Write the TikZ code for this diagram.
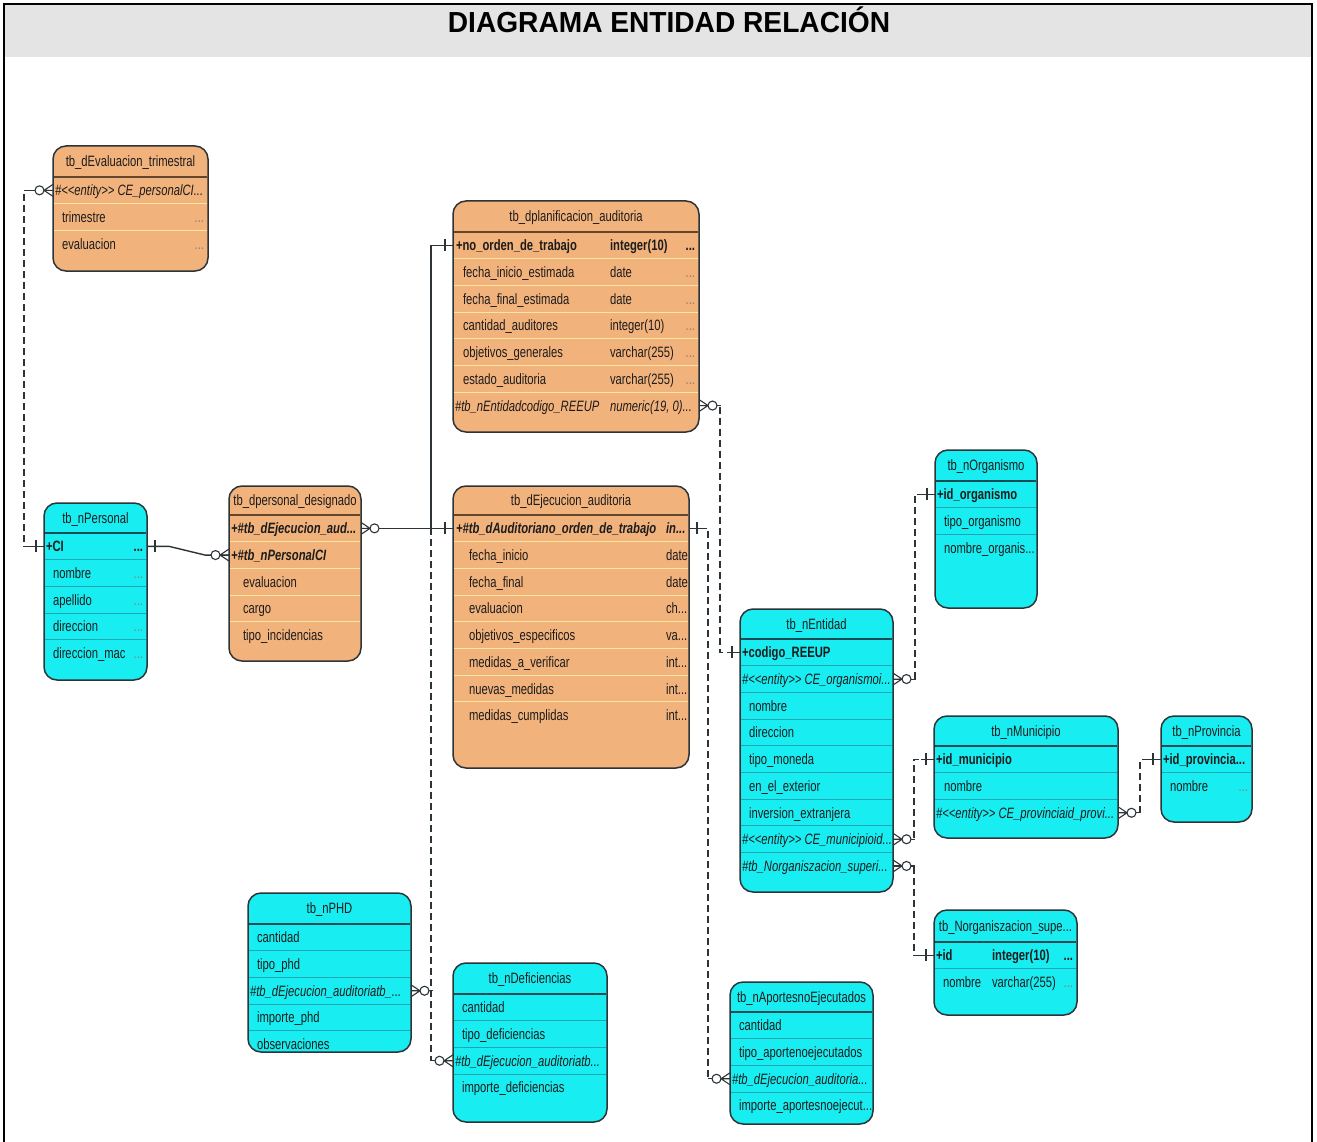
\documentclass[tikz,border=0pt]{standalone}
\usepackage{fontspec}
\newfontfamily\erfont{Liberation Sans}[FakeStretch=0.75]
\newfontfamily\headfont{Liberation Sans}[FakeStretch=0.97]
\usetikzlibrary{calc}

\definecolor{erorange}{RGB}{242,178,124}
\definecolor{erorangerule}{RGB}{250,232,160}
\definecolor{erorangehead}{RGB}{100,70,45}
\definecolor{ercyan}{RGB}{24,238,242}
\definecolor{ercyanrule}{RGB}{30,165,180}
\definecolor{ercyanhead}{RGB}{25,75,85}
\definecolor{erframe}{RGB}{45,52,55}
\definecolor{erink}{RGB}{28,28,28}
\definecolor{erdots}{RGB}{130,130,120}
\definecolor{titleband}{RGB}{228,228,228}

\newcommand\rowh{26.7}

% \ertable{name}{left}{top}{right}{bottom}{header rule y}{colour}{title}
\newcommand\ertable[8]{%
  \expandafter\xdef\csname erl@#1\endcsname{#2}%
  \expandafter\xdef\csname err@#1\endcsname{#4}%
  \expandafter\xdef\csname erh@#1\endcsname{#6}%
  \expandafter\xdef\csname erc@#1\endcsname{#7}%
  \node[tablebox, fill=#7, minimum width={#4-#2}, minimum height={#5-#3}] (#1) at ({(#2+#4)/2},{(#3+#5)/2}) {};
  \draw[headrule, draw=#7head] ({#2+0.8},#6) -- ({#4-0.8},#6);
  \node[ertitle, anchor=base] (#1-title) at ({(#2+#4)/2},{(#3+#6)/2+5}) {#8};
}

% \errow{table}{index}{style}{x of name}{name}{x of type}{type}{style of trailing dots}
\newcommand\errow[8]{%
  \edef\tabL{\csname erl@#1\endcsname}%
  \edef\tabR{\csname err@#1\endcsname}%
  \edef\tabH{\csname erh@#1\endcsname}%
  \edef\tabC{\csname erc@#1\endcsname rule}%
  \pgfmathsetmacro\rowY{\tabH+(#2-0.5)*\rowh}%
  \pgfmathsetmacro\rowB{\rowY+5.5}%
  \node[rowslot, minimum width={\tabR-\tabL}] (#1-#2) at ({(\tabL+\tabR)/2},\rowY) {};
  \ifnum#2>1
    \pgfmathsetmacro\rowT{\tabH+(#2-1)*\rowh}%
    \draw[rowrule, draw=\tabC] ({\tabL+0.8},\rowT) -- ({\tabR-0.8},\rowT);
  \fi
  \node[#3, anchor=base west] (#1-#2-name) at (#4,\rowB) {#5};
  \if\relax\detokenize{#7}\relax\else
    \node[#3, anchor=base west] (#1-#2-type) at (#6,\rowB) {#7};
  \fi
  \if\relax\detokenize{#8}\relax\else
    \node[#8, anchor=base east] (#1-#2-more) at ({\tabR-4},\rowB) {...};
  \fi
}

\tikzset{
  tablebox/.style={draw=erframe, line width=1.5pt, rounded corners=13pt, inner sep=0pt, outer sep=0pt},
  headrule/.style={line width=1.4pt},
  rowrule/.style={line width=0.9pt},
  rowslot/.style={inner sep=0pt, outer sep=0pt, minimum height=26.7pt},
  ercell/.style={inner sep=0pt, outer sep=0pt, text=erink, font=\erfont\fontsize{15}{17}\selectfont},
  erkey/.style={ercell, font=\erfont\bfseries\fontsize{15}{17}\selectfont},
  erfk/.style={ercell, font=\erfont\itshape\fontsize{15}{17}\selectfont},
  erkeyfk/.style={ercell, font=\erfont\bfseries\itshape\fontsize{15}{17}\selectfont},
  erdot/.style={ercell, text=erdots},
  erkeydot/.style={erkey},
  ertitle/.style={ercell},
  conn/.style={draw=erframe, line width=1.1pt},
  relline/.style={conn, dash pattern=on 7pt off 4pt},
  endmark/.style={draw=erframe, line width=1.1pt, solid},
  crowend/.pic={
    \draw[endmark] (0,-6) -- (9,0) -- (0,6) (0,0) -- (9,0);
    \draw[endmark, fill=white] (13.5,0) circle[radius=4.5];
    \draw[endmark] (18,0) -- (22,0);
  },
  barend/.pic={
    \draw[endmark] (0,0) -- (13,0) (8,-6) -- (8,6);
  },
}

\begin{document}
\begin{tikzpicture}[x=1pt, y=-1pt]
\useasboundingbox (0,0) rectangle (1317,1142);
\fill[white] (0,0) rectangle (1317,1142);

% heading band and frame
\fill[titleband] (4,4) rectangle (1312,57);
\draw[black, line width=2.5pt] (4,1142) -- (4,4) -- (1312,4) -- (1312,1142);
\node[font=\headfont\bfseries\fontsize{29}{31}\selectfont, anchor=base, inner sep=0pt] (heading) at (669,33) {DIAGRAMA ENTIDAD RELACIÓN};

% ---------------- tables ----------------
\ertable{eval}{53}{146}{208}{271}{177}{erorange}{tb\_dEvaluacion\_trimestral}
\errow{eval}{1}{erfk}{55}{\#<<entity>> CE\_personalCI...}{}{}{}
\errow{eval}{2}{ercell}{62}{trimestre}{}{}{erdot}
\errow{eval}{3}{ercell}{62}{evaluacion}{}{}{erdot}

\ertable{plan}{453}{201}{699}{432}{232}{erorange}{tb\_dplanificacion\_auditoria}
\errow{plan}{1}{erkey}{456}{+no\_orden\_de\_trabajo}{610}{integer(10)}{erkeydot}
\errow{plan}{2}{ercell}{463}{fecha\_inicio\_estimada}{610}{date}{erdot}
\errow{plan}{3}{ercell}{463}{fecha\_final\_estimada}{610}{date}{erdot}
\errow{plan}{4}{ercell}{463}{cantidad\_auditores}{610}{integer(10)}{erdot}
\errow{plan}{5}{ercell}{463}{objetivos\_generales}{610}{varchar(255)}{erdot}
\errow{plan}{6}{ercell}{463}{estado\_auditoria}{610}{varchar(255)}{erdot}
\errow{plan}{7}{erfk}{455}{\#tb\_nEntidadcodigo\_REEUP}{610}{numeric(19, 0)...}{}

\ertable{ejec}{453}{486}{689}{768}{515}{erorange}{tb\_dEjecucion\_auditoria}
\errow{ejec}{1}{erkeyfk}{456}{+\#tb\_dAuditoriano\_orden\_de\_trabajo}{666}{in...}{}
\errow{ejec}{2}{ercell}{469}{fecha\_inicio}{666}{date}{}
\errow{ejec}{3}{ercell}{469}{fecha\_final}{666}{date}{}
\errow{ejec}{4}{ercell}{469}{evaluacion}{666}{ch...}{}
\errow{ejec}{5}{ercell}{469}{objetivos\_especificos}{666}{va...}{}
\errow{ejec}{6}{ercell}{469}{medidas\_a\_verificar}{666}{int...}{}
\errow{ejec}{7}{ercell}{469}{nuevas\_medidas}{666}{int...}{}
\errow{ejec}{8}{ercell}{469}{medidas\_cumplidas}{666}{int...}{}

\ertable{des}{229}{486}{361}{661}{515}{erorange}{tb\_dpersonal\_designado}
\errow{des}{1}{erkeyfk}{231}{+\#tb\_dEjecucion\_aud...}{}{}{}
\errow{des}{2}{erkeyfk}{231}{+\#tb\_nPersonalCI}{}{}{}
\errow{des}{3}{ercell}{243}{evaluacion}{}{}{}
\errow{des}{4}{ercell}{243}{cargo}{}{}{}
\errow{des}{5}{ercell}{243}{tipo\_incidencias}{}{}{}

\ertable{per}{44}{503}{147}{680}{533}{ercyan}{tb\_nPersonal}
\errow{per}{1}{erkey}{46}{+CI}{}{}{erkeydot}
\errow{per}{2}{ercell}{53}{nombre}{}{}{erdot}
\errow{per}{3}{ercell}{53}{apellido}{}{}{erdot}
\errow{per}{4}{ercell}{53}{direccion}{}{}{erdot}
\errow{per}{5}{ercell}{53}{direccion\_mac}{}{}{erdot}

\ertable{org}{935}{450}{1037}{608}{481}{ercyan}{tb\_nOrganismo}
\errow{org}{1}{erkey}{937}{+id\_organismo}{}{}{}
\errow{org}{2}{ercell}{944}{tipo\_organismo}{}{}{}
\errow{org}{3}{ercell}{944}{nombre\_organis...}{}{}{}

\ertable{ent}{740}{609}{893}{892}{639}{ercyan}{tb\_nEntidad}
\errow{ent}{1}{erkey}{742}{+codigo\_REEUP}{}{}{}
\errow{ent}{2}{erfk}{742}{\#<<entity>> CE\_organismoi...}{}{}{}
\errow{ent}{3}{ercell}{749}{nombre}{}{}{}
\errow{ent}{4}{ercell}{749}{direccion}{}{}{}
\errow{ent}{5}{ercell}{749}{tipo\_moneda}{}{}{}
\errow{ent}{6}{ercell}{749}{en\_el\_exterior}{}{}{}
\errow{ent}{7}{ercell}{749}{inversion\_extranjera}{}{}{}
\errow{ent}{8}{erfk}{742}{\#<<entity>> CE\_municipioid...}{}{}{}
\errow{ent}{9}{erfk}{742}{\#tb\_Norganiszacion\_superi...}{}{}{}

\ertable{mun}{934}{716}{1118}{838}{746}{ercyan}{tb\_nMunicipio}
\errow{mun}{1}{erkey}{936}{+id\_municipio}{}{}{}
\errow{mun}{2}{ercell}{944}{nombre}{}{}{}
\errow{mun}{3}{erfk}{936}{\#<<entity>> CE\_provinciaid\_provi...}{}{}{}

\ertable{prov}{1161}{716}{1252}{822}{746}{ercyan}{tb\_nProvincia}
\errow{prov}{1}{erkey}{1163}{+id\_provincia...}{}{}{}
\errow{prov}{2}{ercell}{1170}{nombre}{}{}{erdot}

\ertable{norg}{934}{910}{1077}{1015}{942}{ercyan}{tb\_Norganiszacion\_supe...}
\errow{norg}{1}{erkey}{936}{+id}{992}{integer(10)}{erkeydot}
\errow{norg}{2}{ercell}{943}{nombre}{992}{varchar(255)}{erdot}

\ertable{apor}{730}{982}{873}{1124}{1012}{ercyan}{tb\_nAportesnoEjecutados}
\errow{apor}{1}{ercell}{739}{cantidad}{}{}{}
\errow{apor}{2}{ercell}{739}{tipo\_aportenoejecutados}{}{}{}
\errow{apor}{3}{erfk}{732}{\#tb\_dEjecucion\_auditoria...}{}{}{}
\errow{apor}{4}{ercell}{739}{importe\_aportesnoejecut...}{}{}{}

\ertable{def}{453}{963}{607}{1122}{994}{ercyan}{tb\_nDeficiencias}
\errow{def}{1}{ercell}{462}{cantidad}{}{}{}
\errow{def}{2}{ercell}{462}{tipo\_deficiencias}{}{}{}
\errow{def}{3}{erfk}{455}{\#tb\_dEjecucion\_auditoriatb...}{}{}{}
\errow{def}{4}{ercell}{462}{importe\_deficiencias}{}{}{}

\ertable{phd}{248}{893}{411}{1052}{924}{ercyan}{tb\_nPHD}
\errow{phd}{1}{ercell}{257}{cantidad}{}{}{}
\errow{phd}{2}{ercell}{257}{tipo\_phd}{}{}{}
\errow{phd}{3}{erfk}{250}{\#tb\_dEjecucion\_auditoriatb\_...}{}{}{}
\errow{phd}{4}{ercell}{257}{importe\_phd}{}{}{}
\errow{phd}{5}{ercell}{257}{observaciones}{}{}{}

% ---------------- relationships ----------------
\draw[relline] (eval-1.west) -- ++(-29,0) |- (per-1.west);
\draw[conn, line width=1.4pt] (per-1.east) -- ++(22,0) -- ($(des-2.west)+(-24,0)$) -- (des-2.west);
\draw[conn] (des-1.east) -- (ejec-1.west);
\draw[conn] (plan-1.west) -- ++(-22,0) |- (ejec-1.west);
\draw[relline] (ejec-1.west) ++(-22,0) |- (phd-3.east);
\draw[relline] (ejec-1.west) ++(-22,0) |- (def-3.west);
\draw[relline] (ejec-1.east) -- ++(19,0) |- (apor-3.west);
\draw[relline] (plan-7.east) -- ++(21,0) |- (ent-1.west);
\draw[relline] (ent-2.east) -- ++(22,0) |- (org-1.west);
\draw[relline] (ent-8.east) -- ++(21,0) |- (mun-1.west);
\draw[relline] (ent-9.east) -- ++(21,0) |- (norg-1.west);
\draw[relline] (mun-3.east) -- ++(22,0) |- (prov-1.west);

% cardinality marks
\pic[rotate=180] at (eval-1.west) {crowend};
\pic[rotate=180] at (per-1.west) {barend};
\pic at (per-1.east) {barend};
\pic[rotate=180] at (des-2.west) {crowend};
\pic at (des-1.east) {crowend};
\pic[rotate=180] at (ejec-1.west) {barend};
\pic[rotate=180] at (plan-1.west) {barend};
\pic at (phd-3.east) {crowend};
\pic[rotate=180] at (def-3.west) {crowend};
\pic at (ejec-1.east) {barend};
\pic[rotate=180] at (apor-3.west) {crowend};
\pic at (plan-7.east) {crowend};
\pic[rotate=180] at (ent-1.west) {barend};
\pic at (ent-2.east) {crowend};
\pic[rotate=180] at (org-1.west) {barend};
\pic at (ent-8.east) {crowend};
\pic[rotate=180] at (mun-1.west) {barend};
\pic at (ent-9.east) {crowend};
\pic[rotate=180] at (norg-1.west) {barend};
\pic at (mun-3.east) {crowend};
\pic[rotate=180] at (prov-1.west) {barend};
\end{tikzpicture}
\end{document}
